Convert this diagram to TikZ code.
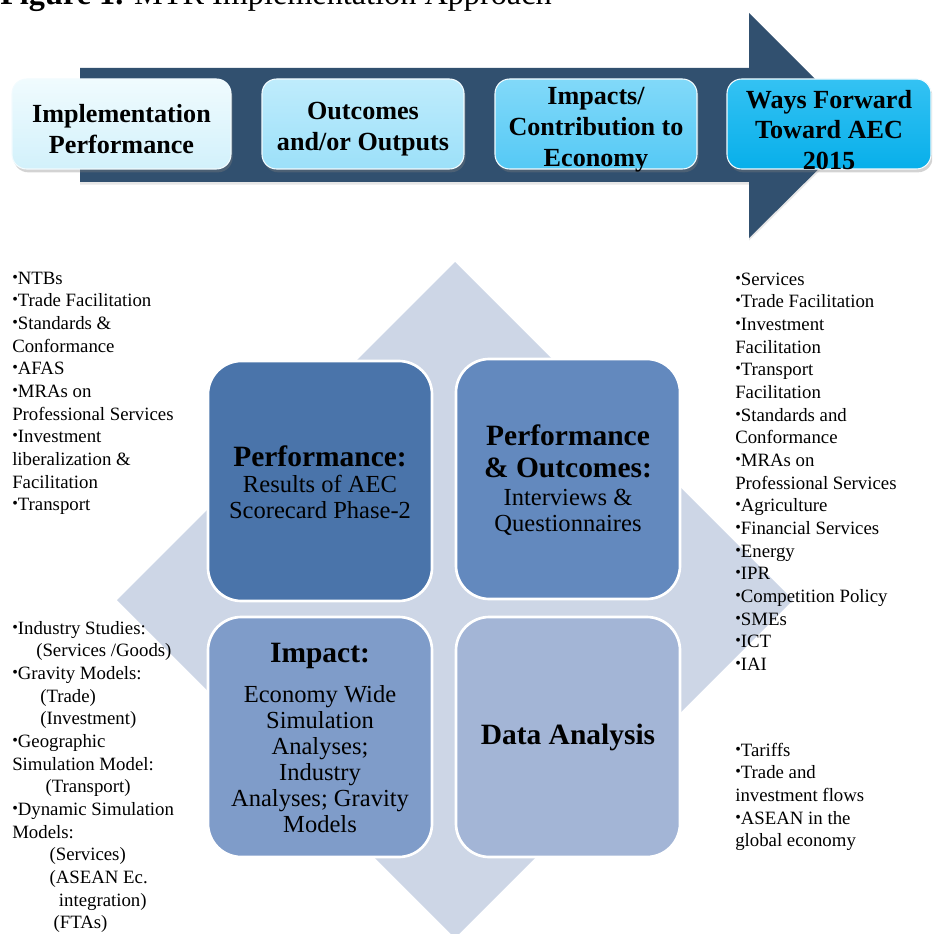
\documentclass[tikz,border=0pt]{standalone}
\usepackage{fontspec}
\setmainfont{Liberation Serif}
\usetikzlibrary{shadows}

\definecolor{shaftblue}{HTML}{31506F}
\definecolor{diamondgray}{HTML}{CDD6E6}
\definecolor{qTL}{HTML}{4A74AA}
\definecolor{qTR}{HTML}{6389BE}
\definecolor{qBL}{HTML}{7F9CC9}
\definecolor{qBR}{HTML}{A3B5D6}
\definecolor{sAtop}{HTML}{F0FBFE}
\definecolor{sAbot}{HTML}{D2F1FB}
\definecolor{sBtop}{HTML}{BFECFC}
\definecolor{sBbot}{HTML}{9CE0F9}
\definecolor{sCtop}{HTML}{82D9F9}
\definecolor{sCbot}{HTML}{55C9F5}
\definecolor{sDtop}{HTML}{34C2F3}
\definecolor{sDbot}{HTML}{08AFEA}

\newcommand{\bul}{\raisebox{0.1em}{\scalebox{0.85}{•}}}
\newcommand{\qhead}{\fontsize{22.1}{24}\selectfont\bfseries}

\tikzset{
  stagebox/.style={draw=white!70!sAbot, line width=0.8pt, rounded corners=11pt,
    minimum width=#1*0.75pt, minimum height=67.5pt, inner sep=0pt,
    drop shadow={shadow xshift=1.2pt, shadow yshift=-2.5pt, opacity=0.35}},
  stagetext/.style={align=center, inner sep=0pt, font=\fontsize{19.6}{23.2}\selectfont\bfseries},
  quad/.style={draw=white, line width=2pt, rounded corners=25pt,
    minimum width=168pt, minimum height=180pt, inner sep=0pt},
  quadtext/.style={align=center, inner sep=0pt, font=\fontsize{18.4}{19.5}\selectfont},
  listtext/.style={align=left, anchor=north west, inner sep=0pt,
    font=\fontsize{14.1}{17}\selectfont},
}

\begin{document}
\begin{tikzpicture}[x=0.75pt,y=-0.75pt]
\useasboundingbox (0,0) rectangle (932,934);
\clip (0,0) rectangle (932,934);

% heading, cut by the upper page edge
\node[anchor=base west, inner sep=0pt, font=\fontsize{24.2}{28}\selectfont]
  (title) at (0,5) {\textbf{Figure 1.} MTR Implementation Approach};

% the long process arrow
\fill[shaftblue, drop shadow={shadow xshift=0pt, shadow yshift=-2pt, opacity=0.2}]
  (80,68) -- (749,68) -- (749,13) -- (862,126) -- (749,238)
  -- (749,182) -- (80,182) -- cycle;

% stages along the arrow
\node[stagebox=219, top color=sAtop, bottom color=sAbot] (s1) at (121.5,124) {};
\node[stagebox=202, top color=sBtop, bottom color=sBbot] (s2) at (363,124) {};
\node[stagebox=202, top color=sCtop, bottom color=sCbot] (s3) at (596,124) {};
\node[stagebox=204, top color=sDtop, bottom color=sDbot] (s4) at (829,124) {};

\node[stagetext] (t1) at (121.5,129) {Implementation\\Performance};
\node[stagetext] (t2) at (363,129) {Outcomes\\and/or Outputs};
\node[stagetext] (t3) at (596,130) {Impacts/\\Contribution to\\Economy};
\node[stagetext] (t4) at (829,130) {Ways Forward\\Toward AEC\\2015};

% background diamond
\fill[diamondgray] (455,262) -- (793,600) -- (455,938) -- (117,600) -- cycle;

% four quadrants
\node[quad, fill=qTL] (qa) at (320,481) {};
\node[quad, fill=qTR] (qb) at (568,479) {};
\node[quad, fill=qBL] (qc) at (320,737) {};
\node[quad, fill=qBR] (qd) at (568,737) {};

\node[quadtext] (qat) at (320,482)
  {{\qhead Performance:}\\Results of AEC\\Scorecard Phase-2};
\node[quadtext] (qbt) at (568,480)
  {{\qhead Performance}\\[4.5pt]{\qhead \& Outcomes:}\\[1.5pt]Interviews \&\\Questionnaires};
\node[quadtext] (qct) at (320,738)
  {{\qhead Impact:}\\[10pt]Economy Wide\\Simulation\\Analyses;\\Industry\\Analyses; Gravity\\Models};
\node[quadtext, font=\qhead] (qdt) at (568,737) {Data Analysis};

% side lists
\node[listtext] (la) at (12,268) {\strut\bul NTBs\\\bul Trade Facilitation\\\bul Standards \&\\Conformance\\\bul AFAS\\\bul MRAs on\\Professional Services\\\bul Investment\\liberalization \&\\Facilitation\\\bul Transport};

\node[listtext] (lb) at (12,618) {\strut\bul Industry Studies:\\
  \hspace*{18pt}(Services /Goods)\\
  \bul Gravity Models:\\
  \hspace*{21pt}(Trade)\\
  \hspace*{21pt}(Investment)\\
  \bul Geographic\\
  Simulation Model:\\
  \hspace*{25pt}(Transport)\\
  \bul Dynamic Simulation\\
  Models:\\
  \hspace*{28pt}(Services)\\
  \hspace*{28pt}(ASEAN Ec.\\
  \hspace*{35pt}integration)\\
  \hspace*{31pt}(FTAs)};

\node[listtext] (lc) at (735,269) {\strut\bul Services\\\bul Trade Facilitation\\\bul Investment\\Facilitation\\\bul Transport\\Facilitation\\\bul Standards and\\Conformance\\\bul MRAs on\\Professional Services\\\bul Agriculture\\\bul Financial Services\\\bul Energy\\\bul IPR\\\bul Competition Policy\\\bul SMEs\\\bul ICT\\\bul IAI};

\node[listtext] (ld) at (735,740) {\strut\bul Tariffs\\\bul Trade and\\investment flows\\\bul ASEAN in the\\global economy};
\end{tikzpicture}
\end{document}
